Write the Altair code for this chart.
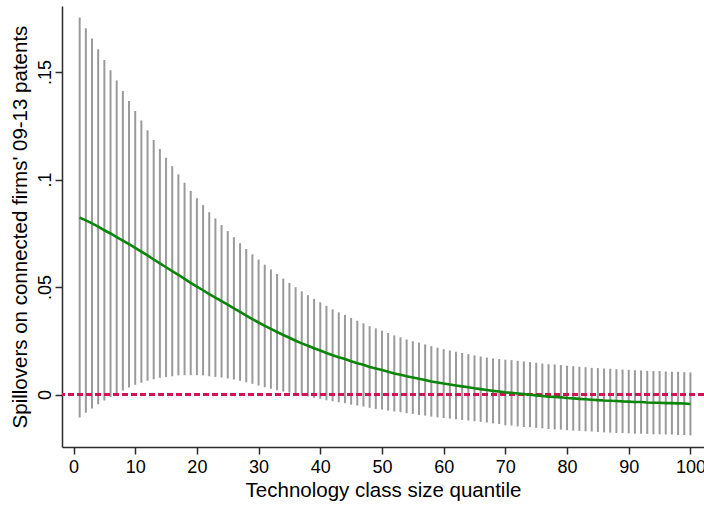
import altair as alt
import pandas as pd

# Technology class size quantiles 1..100
quantile = list(range(1, 101))

# Upper bound of the 95% confidence interval
ci_upper = [
    0.1753, 0.1704, 0.1656, 0.1606, 0.1556, 0.1508, 0.1460, 0.1412, 0.1365, 0.1319,
    0.1274, 0.1229, 0.1184, 0.1142, 0.1101, 0.1062, 0.1024, 0.0985, 0.0947, 0.0913,
    0.0881, 0.0848, 0.0819, 0.0788, 0.0760, 0.0732, 0.0704, 0.0677, 0.0652, 0.0628,
    0.0604, 0.0582, 0.0561, 0.0539, 0.0519, 0.0499, 0.0480, 0.0462, 0.0445, 0.0429,
    0.0413, 0.0396, 0.0382, 0.0370, 0.0356, 0.0343, 0.0331, 0.0318, 0.0308, 0.0297,
    0.0286, 0.0275, 0.0266, 0.0256, 0.0248, 0.0241, 0.0233, 0.0225, 0.0218, 0.0211,
    0.0205, 0.0199, 0.0193, 0.0188, 0.0182, 0.0177, 0.0172, 0.0168, 0.0165, 0.0162,
    0.0160, 0.0157, 0.0154, 0.0151, 0.0148, 0.0144, 0.0141, 0.0140, 0.0137, 0.0134,
    0.0132, 0.0129, 0.0127, 0.0124, 0.0123, 0.0121, 0.0120, 0.0118, 0.0116, 0.0115,
    0.0113, 0.0112, 0.0110, 0.0109, 0.0109, 0.0107, 0.0106, 0.0106, 0.0104, 0.0103,
]

# Lower bound of the 95% confidence interval
ci_lower = [
    -0.0107, -0.0085, -0.0065, -0.0045, -0.0028, -0.0011, 0.0003, 0.0019, 0.0033, 0.0045,
    0.0055, 0.0064, 0.0071, 0.0078, 0.0082, 0.0085, 0.0089, 0.0090, 0.0090, 0.0090,
    0.0089, 0.0085, 0.0082, 0.0079, 0.0075, 0.0070, 0.0064, 0.0057, 0.0050, 0.0042,
    0.0034, 0.0027, 0.0020, 0.0014, 0.0009, 0.0001, -0.0005, -0.0009, -0.0015, -0.0020,
    -0.0027, -0.0031, -0.0036, -0.0040, -0.0047, -0.0051, -0.0056, -0.0062, -0.0067, -0.0070,
    -0.0075, -0.0079, -0.0082, -0.0087, -0.0090, -0.0095, -0.0098, -0.0103, -0.0106, -0.0109,
    -0.0112, -0.0115, -0.0118, -0.0121, -0.0124, -0.0127, -0.0130, -0.0134, -0.0137, -0.0143,
    -0.0144, -0.0148, -0.0151, -0.0152, -0.0155, -0.0157, -0.0160, -0.0162, -0.0163, -0.0166,
    -0.0168, -0.0169, -0.0171, -0.0172, -0.0174, -0.0176, -0.0177, -0.0179, -0.0179, -0.0180,
    -0.0182, -0.0182, -0.0183, -0.0185, -0.0185, -0.0186, -0.0186, -0.0188, -0.0188, -0.0190,
]

# Point estimate of the spillover effect
estimate = [
    0.0823, 0.0810, 0.0796, 0.0781, 0.0764, 0.0749, 0.0732, 0.0716, 0.0699, 0.0682,
    0.0665, 0.0647, 0.0628, 0.0610, 0.0592, 0.0574, 0.0557, 0.0538, 0.0519, 0.0502,
    0.0485, 0.0467, 0.0451, 0.0434, 0.0418, 0.0401, 0.0384, 0.0367, 0.0351, 0.0335,
    0.0319, 0.0305, 0.0291, 0.0277, 0.0264, 0.0250, 0.0238, 0.0227, 0.0215, 0.0205,
    0.0193, 0.0183, 0.0173, 0.0165, 0.0155, 0.0146, 0.0138, 0.0128, 0.0121, 0.0114,
    0.0106, 0.0098, 0.0092, 0.0085, 0.0079, 0.0073, 0.0068, 0.0061, 0.0056, 0.0051,
    0.0047, 0.0042, 0.0038, 0.0034, 0.0029, 0.0025, 0.0021, 0.0017, 0.0014, 0.0010,
    0.0008, 0.0005, 0.0002, -0.0001, -0.0004, -0.0007, -0.0010, -0.0011, -0.0013, -0.0016,
    -0.0018, -0.0020, -0.0022, -0.0024, -0.0026, -0.0028, -0.0029, -0.0030, -0.0032, -0.0033,
    -0.0035, -0.0035, -0.0037, -0.0038, -0.0038, -0.0040, -0.0040, -0.0041, -0.0042, -0.0044,
]

x_ticks = list(range(0, 101, 10))
y_ticks = [0, 0.05, 0.1, 0.15]

df = pd.DataFrame({"q": quantile, "lo": ci_lower, "hi": ci_upper, "est": estimate})

FONT = "Liberation Sans"
AXIS_COLOR = "#2b2b2b"

x_scale = alt.Scale(domain=[-1.865, 102.2], nice=False, zero=False)
y_scale = alt.Scale(domain=[-0.0244, 0.1807], nice=False, zero=False)

x_axis = alt.Axis(
    values=x_ticks, title="Technology class size quantile", grid=False,
    labelFontSize=18, titleFontSize=20.5, titleFontWeight="normal",
    labelColor="#000", titleColor="#000", titlePadding=4,
    labelPadding=4, tickSize=7,
)
y_axis = alt.Axis(
    values=y_ticks, title="Spillovers on connected firms' 09-13 patents", grid=False,
    labelFontSize=18, titleFontSize=20.5, titleFontWeight="normal",
    labelColor="#000", titleColor="#000",
    labelAngle=270, labelAlign="center", labelBaseline="bottom", labelPadding=1,
    labelExpr="datum.value == 0 ? '0' : substring(format(datum.value, '~g'), 1)",
    titlePadding=6, tickSize=7,
)

bars = alt.Chart(df).mark_rule(color="#9a9a9a", strokeWidth=2).encode(
    x=alt.X("q:Q", scale=x_scale, axis=x_axis),
    y=alt.Y("lo:Q", scale=y_scale, axis=y_axis),
    y2="hi:Q",
)

zero_line = alt.Chart(df).mark_rule(
    color="#cf1552", strokeWidth=2.5, strokeDash=[5.5, 3.5]
).encode(y=alt.datum(0))

line = alt.Chart(df).mark_line(color="#0b860b", strokeWidth=2.6).encode(
    x="q:Q",
    y="est:Q",
)

chart = (
    alt.layer(bars, zero_line, line)
    .properties(
        width=642,
        height=441,
        autosize=alt.AutoSizeParams(type="none"),
        padding={"left": 62, "top": 6, "right": 0, "bottom": 59},
        background="white",
    )
    .configure_view(stroke=None)
    .configure_axis(
        labelFont=FONT, titleFont=FONT,
        domainColor=AXIS_COLOR, tickColor=AXIS_COLOR,
        domainWidth=1.5, tickWidth=1.5,
    )
)

chart.save("out.html", embed_options={"renderer": "svg", "actions": False})
